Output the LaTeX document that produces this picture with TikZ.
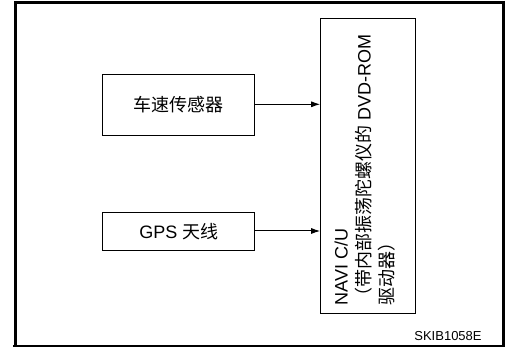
\documentclass[tikz,border=0pt]{standalone}
\usepackage{fontspec}
\setmainfont{Liberation Sans}
\newfontfamily\cjk{Noto Sans CJK SC}
\usetikzlibrary{arrows.meta}
\begin{document}
\begin{tikzpicture}[x=1pt,y=-1pt,
  box/.style={draw, line width=1pt, inner sep=0pt},
  frameline/.style={line width=3pt},
  conn/.style={line width=1pt, -{Latex[length=9pt,width=6pt]}},
  lbl/.style={font=\fontsize{18}{23}\selectfont, inner sep=0pt}]
\useasboundingbox (0,0) rectangle (506,347);
% outer frame
\coordinate (ftl) at (15.5,1);
\coordinate (fbl) at (15.5,346);
\coordinate (ftl2) at (14,2.5);
\coordinate (ftr2) at (503.5,2.5);
\coordinate (ftr) at (503.5,1);
\coordinate (fbr) at (503.5,346);
\coordinate (fbl3) at (13,346);
\coordinate (fbr3) at (505,346);
\draw[frameline] (ftl) -- (fbl);
\draw[frameline] (ftl2) -- (ftr2);
\draw[frameline] (ftr) -- (fbr);
\draw[line width=2pt] (fbl3) -- (fbr3);
% boxes
\node[box, minimum width=152.3pt, minimum height=60.7pt] (speed) at (178.8,104.7) {};
\node[lbl] (speedtxt) at (speed.center) {\cjk 车速传感器};
\node[box, minimum width=152.3pt, minimum height=37.7pt] (gps) at (178.8,231.2) {};
\node[lbl] (gpstxt) at (gps.center) {GPS {\cjk 天线}};
\node[box, minimum width=94.6pt, minimum height=295pt] (navi) at (368,166.5) {};
\node[lbl, rotate=90, anchor=north west, align=left] (navitxt) at (334.3,305.5)
  {NAVI C/U\\{\cjk （带内部振荡陀螺仪的} DVD-ROM\\{\cjk 驱动器）}};
% connectors
\draw[conn] (speed.east |- 0,104.3) -- (navi.west |- 0,104.3);
\draw[conn] (gps.east |- 0,231) -- (navi.west |- 0,231);
% code
\node[font=\fontsize{13}{15}\selectfont, inner sep=0pt] (code) at (448,336.5) {SKIB1058E};
\end{tikzpicture}
\end{document}
